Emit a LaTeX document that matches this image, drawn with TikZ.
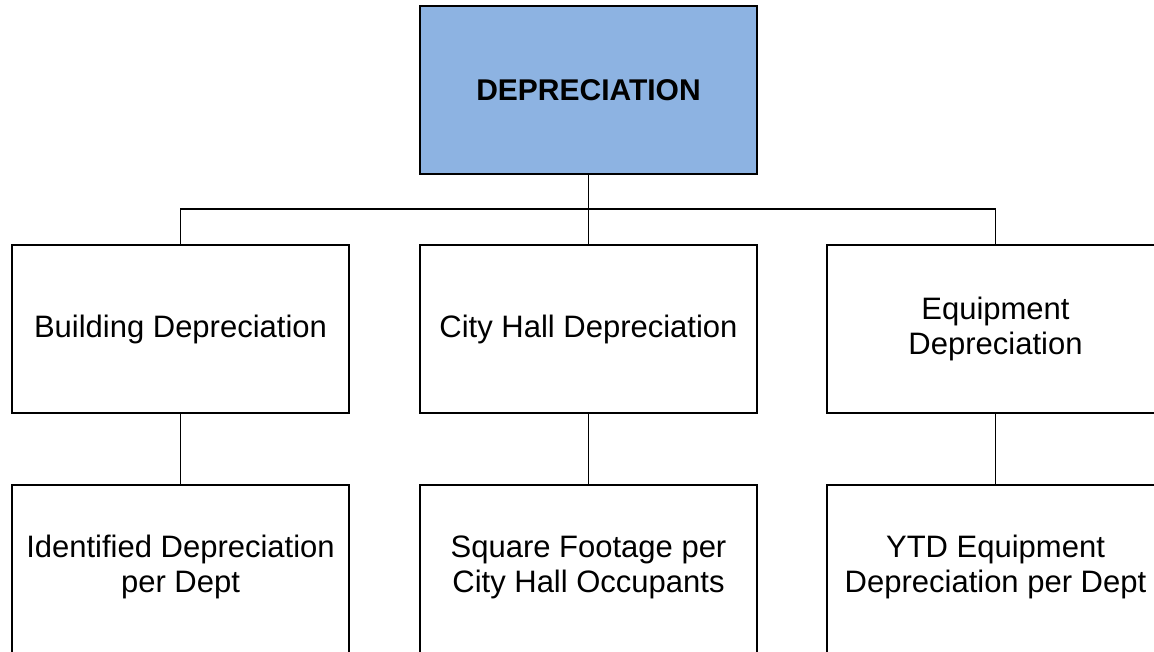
\documentclass[tikz,border=0pt]{standalone}
\usepackage{fontspec}
\setmainfont{Liberation Sans}
\usepackage{xcolor}
\usepackage{tikz}
\usetikzlibrary{positioning}

\definecolor{headblue}{HTML}{8DB3E2}

\begin{document}
\begin{tikzpicture}[
        x=1pt, y=1pt,
        % Define styles for consistency
        box/.style={draw=black, line width=1.7pt, fill=white, minimum width=337pt,
                    minimum height=168pt, inner sep=0pt, align=center,
                    font=\fontsize{31}{35}\selectfont},
        headbox/.style={box, fill=headblue, font=\fontsize{30}{35}\selectfont\bfseries},
        lowbox/.style={box, minimum height=188pt, anchor=north, text depth=30pt},
        connector/.style={black, line width=1.7pt}
    ]

        % --- Page frame ---
        \useasboundingbox (0,0) rectangle (1154,651);
        \clip (0,0) rectangle (1154,651);

        % --- Top ---
        \node[headbox] (dep) at (588.5,561) {DEPRECIATION};

        % --- Second row ---
        \node[box] (bld) at (180.5,322) {Building Depreciation};
        \node[box] (hall) at (588.5,322) {City Hall Depreciation};
        \node[box] (equip) at (995.5,322) {Equipment\\Depreciation};

        % --- Third row (runs off the bottom edge) ---
        \node[lowbox] (bldper) at (180.5,167) {Identified Depreciation\\per Dept};
        \node[lowbox] (hallsq) at (588.5,167) {Square Footage per\\City Hall Occupants};
        \node[lowbox] (equipytd) at (995.5,167) {YTD Equipment\\Depreciation per Dept};

        % --- Bus ---
        \coordinate (bus) at (dep.south |- 0,442);

        % --- Draw Edges ---
        \draw[connector] (dep.south) -- (bus);
        \draw[connector] (bld.north) |- (bus) -| (equip.north);
        \draw[connector] (bus) -- (hall.north);

        \draw[connector] (bld.south) -- (bldper.north);
        \draw[connector] (hall.south) -- (hallsq.north);
        \draw[connector] (equip.south) -- (equipytd.north);

    \end{tikzpicture}
\end{document}
